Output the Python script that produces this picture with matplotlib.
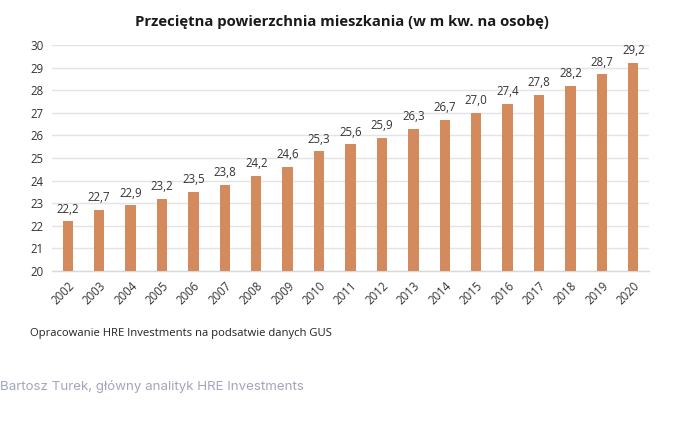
import matplotlib
matplotlib.use("Agg")
import matplotlib.pyplot as plt

years = ["2002", "2003", "2004", "2005", "2006", "2007", "2008", "2009", "2010", "2011",
         "2012", "2013", "2014", "2015", "2016", "2017", "2018", "2019", "2020"]
values = [22.2, 22.7, 22.9, 23.2, 23.5, 23.8, 24.2, 24.6, 25.3, 25.6,
          25.9, 26.3, 26.7, 27.0, 27.4, 27.8, 28.2, 28.7, 29.2]
yticks = list(range(20, 31))

title = "Przeciętna powierzchnia mieszkania (w m kw. na osobę)"
source = "Opracowanie HRE Investments na podsatwie danych GUS"
footer = "Bartosz Turek, główny analityk HRE Investments"

plt.rcParams['font.family'] = ['Open Sans', 'DejaVu Sans']

fig = plt.figure(figsize=(6.8, 4.23), dpi=100)
ax = fig.add_axes([52/680, 1-271/423, (649-52)/680, (271-45)/423])

x = list(range(len(years)))
ax.bar(x, [v - 20 for v in values], bottom=20, width=0.33, color="#D38B5D", zorder=3)
for xi, v in zip(x, values):
    ax.text(xi, v + 0.25, f"{v:.1f}".replace(".", ","), ha="center", va="bottom",
            fontsize=8.3, color="#333333")

ax.set_ylim(20, 30)
ax.set_xlim(-0.5, len(years) - 0.5)
ax.set_yticks(yticks)
ax.set_yticklabels([str(t) for t in yticks], fontsize=8.3, color="#333333")
ax.set_xticks(x)
ax.set_xticklabels(years, rotation=45, ha="right", rotation_mode="anchor", fontsize=8.3, color="#333333")
ax.tick_params(length=0, pad=6)
ax.grid(axis="y", color="#e3e3e3", linewidth=1, zorder=0)
for s in ["top", "right", "left"]:
    ax.spines[s].set_visible(False)
ax.spines["bottom"].set_color("#d9d9d9")
ax.spines["bottom"].set_linewidth(1)

fig.text(342/680, 1-22/423, title, ha="center", va="center", fontsize=10.7, fontweight="bold", color="#1a1a1a")
fig.text(30/680, 1-333/423, source, ha="left", va="center", fontsize=8.1, color="#222222")
fig.text(0, 1-386/423, footer, ha="left", va="center", fontsize=9.6, color="#a3a6bb", family=["Inter", "DejaVu Sans"])

fig.savefig("out.png", dpi=100)
